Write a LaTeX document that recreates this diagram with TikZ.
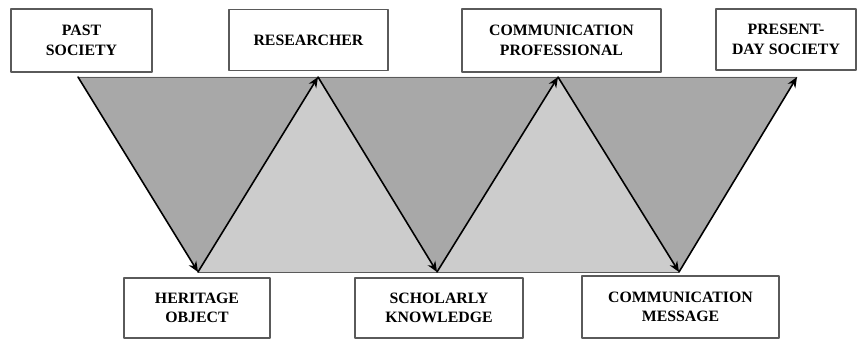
\documentclass[tikz,border=0pt]{standalone}
\usepackage{fontspec}
\setmainfont{Liberation Serif}
\usepackage{tikz}
\usetikzlibrary{arrows.meta}
\definecolor{bandDark}{RGB}{168,168,168}
\definecolor{bandLight}{RGB}{204,204,204}
\definecolor{frameGray}{RGB}{90,90,90}
\tikzset{actor/.style={draw=frameGray,line width=0.6pt,fill=white,align=center,
   font=\bfseries\fontsize{9}{11}\selectfont,inner sep=2pt},
 flow/.style={line width=0.9pt,-{Stealth[length=6pt,width=5pt]}},
 every picture/.style={line join=round,line cap=round}}
\begin{document}
\begin{tikzpicture}[]
\useasboundingbox (0.000,0.000) rectangle (17.140,6.780);
\coordinate (a1) at (1.560,5.240);
\coordinate (b1) at (3.960,1.340);
\coordinate (a2) at (6.360,5.240);
\coordinate (b2) at (8.740,1.340);
\coordinate (a3) at (11.160,5.240);
\coordinate (b3) at (13.580,1.340);
\coordinate (a4) at (15.940,5.240);
\path[fill=bandDark] (a1) -- (a2) -- (b1) -- cycle;
\path[fill=bandDark] (a2) -- (a3) -- (b2) -- cycle;
\path[fill=bandDark] (a3) -- (a4) -- (b3) -- cycle;
\path[fill=bandLight] (b1) -- (a2) -- (b2) -- cycle;
\path[fill=bandLight] (b2) -- (a3) -- (b3) -- cycle;
\draw[frameGray,line width=0.5pt] (a1) -- (a4);
\draw[frameGray,line width=0.5pt] (b1) -- (b3);
\draw[flow] (a1) -- (b1);
\draw[flow] (b1) -- (a2);
\draw[flow] (a2) -- (b2);
\draw[flow] (b2) -- (a3);
\draw[flow] (a3) -- (b3);
\draw[flow] (b3) -- (a4);
\node[actor,minimum width=2.82cm,minimum height=1.26cm] (past) at (1.630,5.970) {PAST\\SOCIETY};
\node[actor,minimum width=3.18cm,minimum height=1.22cm] (researcher) at (6.170,5.980) {RESEARCHER};
\node[actor,minimum width=3.98cm,minimum height=1.26cm] (professional) at (11.230,5.970) {COMMUNICATION\\PROFESSIONAL};
\node[actor,minimum width=2.80cm,minimum height=1.22cm] (present) at (15.720,5.990) {PRESENT-\\DAY SOCIETY};
\node[actor,minimum width=2.92cm,minimum height=1.20cm] (object) at (3.940,0.620) {HERITAGE\\OBJECT};
\node[actor,minimum width=3.36cm,minimum height=1.20cm] (knowledge) at (8.780,0.620) {SCHOLARLY\\KNOWLEDGE};
\node[actor,minimum width=3.94cm,minimum height=1.24cm] (message) at (13.610,0.640) {COMMUNICATION\\MESSAGE};
\end{tikzpicture}
\end{document}
